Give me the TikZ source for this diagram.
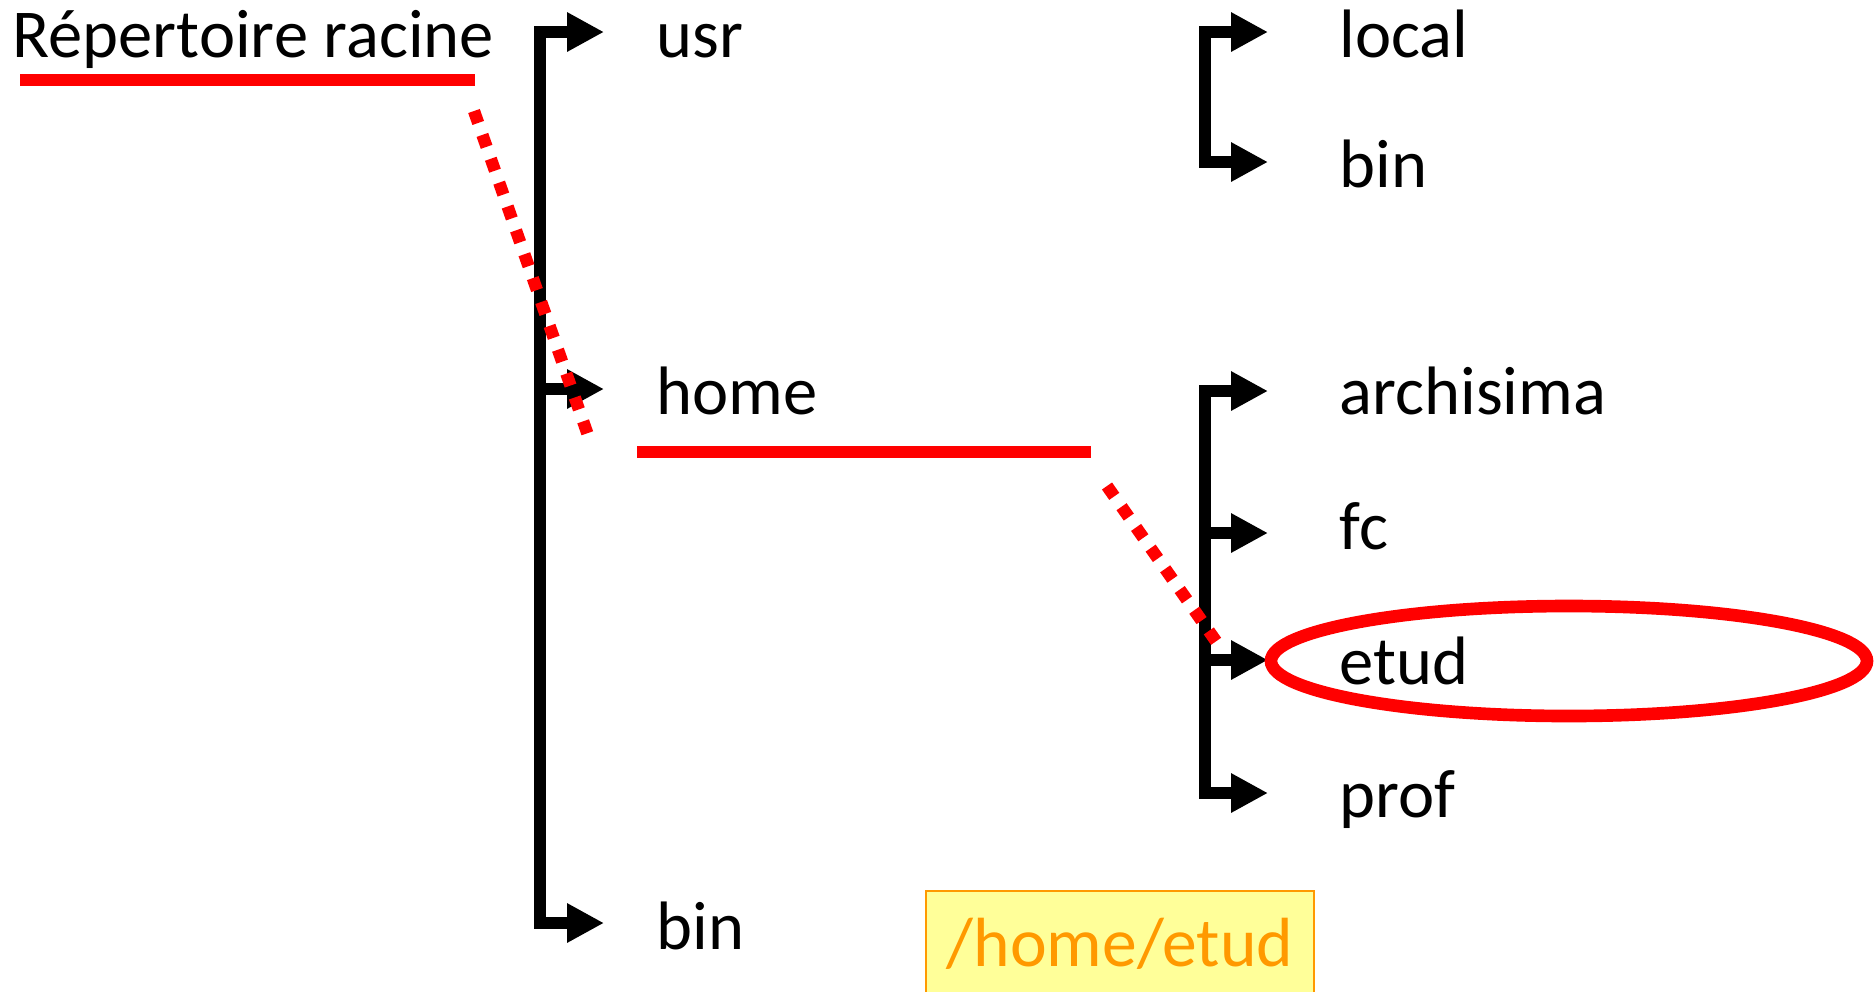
\documentclass[tikz,border=0pt]{standalone}
\usepackage{fontspec}
\setmainfont{Carlito}
\usetikzlibrary{arrows.meta}

\definecolor{pathfill}{RGB}{255,255,153}
\definecolor{pathorange}{RGB}{255,153,0}

\tikzset{
  >={Triangle[length=10.5pt,width=10.5pt]},
  dir/.style={anchor=base west, inner sep=0pt, font=\fontsize{19.5pt}{23pt}\selectfont},
  branch/.style={line width=3.6pt, line join=miter},
  hilite/.style={red, line width=3.6pt},
  dotpath/.style={red, line width=3.5pt, dash pattern=on 3.6pt off 3.6pt},
  pathbox/.style={anchor=north west, draw=pathorange, fill=pathfill, line width=0.6pt,
    text=pathorange, font=\fontsize{19.8pt}{23pt}\selectfont, minimum width=38.8mm,
    inner ysep=0pt, text height=7.5mm, text depth=4mm}
}

\begin{document}
\begin{tikzpicture}[x=0.1mm, y=-0.1mm]
\useasboundingbox (0,0) rectangle (1876,991);
\clip (0,0) rectangle (1876,991);

% root and its children
\node[dir] (racine) at (12,57) {Répertoire racine};
\node[dir] (usr) at (656,57) {usr};
\node[dir] (home) at (656,414) {home};
\node[dir] (bin) at (656,949) {bin};

\coordinate (t-usr) at (540,32);
\coordinate (t-home) at (540,389);
\coordinate (t-bin) at (540,923);

\draw[branch, <->, shorten <=5.2mm, shorten >=5.2mm] (t-usr -| usr.west) -- (t-usr) -- (t-bin) -- (t-bin -| bin.west);
\draw[branch, ->, shorten >=5.2mm] (t-home) -- (t-home -| home.west);

% under usr
\node[dir] (local) at (1339,57) {local};
\node[dir] (usrbin) at (1339,187) {bin};

\coordinate (s-local) at (1205,32);
\coordinate (s-bin) at (1205,162);

\draw[branch, <->, shorten <=7.1mm, shorten >=7.1mm] (s-local -| local.west) -- (s-local) -- (s-bin) -- (s-bin -| usrbin.west);

% under home
\node[dir] (archisima) at (1339,414) {archisima};
\node[dir] (fc) at (1339,549) {fc};
\node[dir] (etud) at (1339,684) {etud};
\node[dir] (prof) at (1339,817) {prof};

\coordinate (h-archisima) at (1205,391);
\coordinate (h-fc) at (1205,533);
\coordinate (h-etud) at (1205,660);
\coordinate (h-prof) at (1205,793);

\draw[branch, <->, shorten <=7.1mm, shorten >=7.1mm] (h-archisima -| archisima.west) -- (h-archisima) -- (h-prof) -- (h-prof -| prof.west);
\foreach \d in {fc,etud}
  \draw[branch, ->, shorten >=7.1mm] (h-\d) -- (h-\d -| \d.west);

% the path that is followed, in red
\coordinate (u-root-a) at (20,80);
\coordinate (u-root-b) at (475,80);
\coordinate (u-home-a) at (637,452);
\coordinate (u-home-b) at (1091,452);

\draw[hilite] (u-root-a) -- (u-root-b);
\draw[hilite] (u-home-a) -- (u-home-b);
\draw[dotpath] (474,111) -- (589,438);
\draw[dotpath] (1107,486) -- (1218,644);
\draw[hilite] (1569,661) ellipse [x radius=29.8mm, y radius=5.5mm];

% resulting path
\node[pathbox] (chemin) at (925,890) {/home/etud};
\end{tikzpicture}
\end{document}
